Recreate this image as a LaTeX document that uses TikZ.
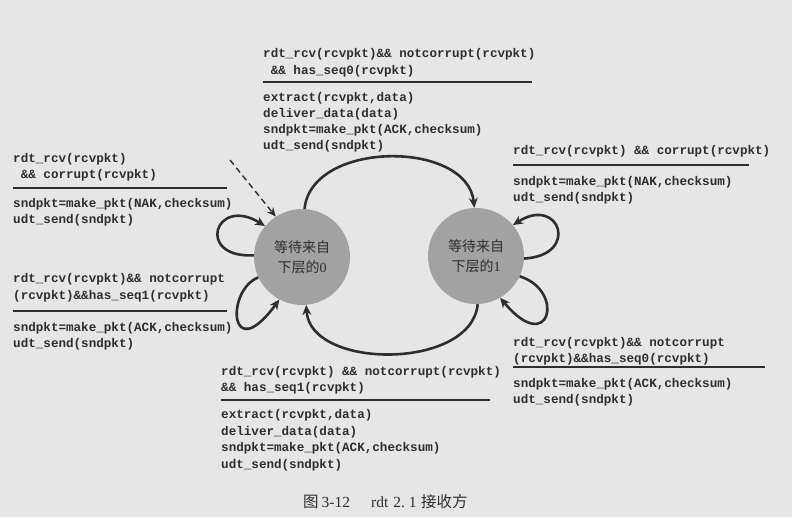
\documentclass[tikz,border=0pt]{standalone}
\usepackage{fontspec}
\setmainfont{Liberation Serif}
\setmonofont{Liberation Mono}
\newfontfamily\cjk{Noto Sans CJK SC}
\usetikzlibrary{arrows.meta}
\definecolor{bg}{HTML}{E6E6E6}
\definecolor{ink}{HTML}{2E2E2E}
\definecolor{stfill}{HTML}{A2A2A2}
\begin{document}
\begin{tikzpicture}[x=1pt,y=-1pt,
  code/.style={anchor=base west, inner sep=0pt, text=ink, font=\ttfamily\bfseries\fontsize{12.6}{16}\selectfont},
  state/.style={circle, fill=stfill, minimum size=96pt, inner sep=0pt, align=center, text=ink, font=\fontsize{14}{20}\selectfont},
  trans/.style={draw=ink, line width=2.6pt, -{Stealth[length=10pt,width=9pt]}},
  rulel/.style={draw=ink, line width=1.3pt},
]
\fill[bg] (0,0) rectangle (792,517);
\useasboundingbox (0,0) rectangle (792,517);

% states
\node[state] (L) at (302,257) {{\cjk 等待来自}\\{\cjk 下层的}0};
\node[state] (R) at (476,256) {{\cjk 等待来自}\\{\cjk 下层的}1};

% transitions
\draw[trans] (L.87) .. controls +(7,-69) and +(-7,-68) .. (R.92);
\draw[trans] (R.-88) .. controls +(-6,66) and +(4,65) .. (L.-85);
\draw[trans] (L.178) .. controls +(-59,3) and +(-50,-31) .. (L.140);
\draw[trans] (L.205) .. controls +(-33,13) and +(-50,68) .. (L.242);
\draw[trans] (R.-3) .. controls +(56,-3) and +(47,-30) .. (R.40);
\draw[trans] (R.-25) .. controls +(46,14) and +(50,60) .. (R.-60);

% initial dashed arrow
\coordinate (init) at (230,160);
\draw[draw=ink, line width=1.4pt, dash pattern=on 6pt off 4pt, -{Stealth[length=9pt,width=8pt]}] (init) -- (L.123);

% block A (top)
\node[code] (a1) at (263,57) {rdt\_rcv(rcvpkt)\&\& notcorrupt(rcvpkt)};
\node[code] (a2) at (263,74) {\ \&\& has\_seq0(rcvpkt)};
\draw[rulel] (263,82) -- (532,82);
\node[code] (a3) at (263,101) {extract(rcvpkt,data)};
\node[code] (a4) at (263,117) {deliver\_data(data)};
\node[code] (a5) at (263,133) {sndpkt=make\_pkt(ACK,checksum)};
\node[code] (a6) at (263,149) {udt\_send(sndpkt)};

% block B (left top)
\node[code] (b1) at (13,162) {rdt\_rcv(rcvpkt)};
\node[code] (b2) at (13,178) {\ \&\& corrupt(rcvpkt)};
\draw[rulel] (13,188) -- (227,188);
\node[code] (b3) at (13,207) {sndpkt=make\_pkt(NAK,checksum)};
\node[code] (b4) at (13,223) {udt\_send(sndpkt)};

% block C (right top)
\node[code] (c1) at (513,154) {rdt\_rcv(rcvpkt) \&\& corrupt(rcvpkt)};
\draw[rulel] (513,165) -- (749,165);
\node[code] (c2) at (513,185) {sndpkt=make\_pkt(NAK,checksum)};
\node[code] (c3) at (513,201) {udt\_send(sndpkt)};

% block D (left bottom)
\node[code] (d1) at (13,282) {rdt\_rcv(rcvpkt)\&\& notcorrupt};
\node[code] (d2) at (13,299) {(rcvpkt)\&\&has\_seq1(rcvpkt)};
\draw[rulel] (13,311) -- (227,311);
\node[code] (d3) at (13,331) {sndpkt=make\_pkt(ACK,checksum)};
\node[code] (d4) at (13,347) {udt\_send(sndpkt)};

% block E (bottom)
\node[code] (e1) at (221,375) {rdt\_rcv(rcvpkt) \&\& notcorrupt(rcvpkt)};
\node[code] (e2) at (221,391) {\&\& has\_seq1(rcvpkt)};
\draw[rulel] (221,400) -- (490,400);
\node[code] (e3) at (221,418) {extract(rcvpkt,data)};
\node[code] (e4) at (221,435) {deliver\_data(data)};
\node[code] (e5) at (221,451) {sndpkt=make\_pkt(ACK,checksum)};
\node[code] (e6) at (221,468) {udt\_send(sndpkt)};

% block F (right bottom)
\node[code] (f1) at (513,346) {rdt\_rcv(rcvpkt)\&\& notcorrupt};
\node[code] (f2) at (513,362) {(rcvpkt)\&\&has\_seq0(rcvpkt)};
\draw[rulel] (513,367) -- (765,367);
\node[code] (f3) at (513,387) {sndpkt=make\_pkt(ACK,checksum)};
\node[code] (f4) at (513,403) {udt\_send(sndpkt)};

% caption
\node[anchor=base west, inner sep=0pt, text=ink, font=\fontsize{15.5}{17}\selectfont] (cap) at (303,507) {{\cjk 图}\hspace{3pt}3-12\hspace{21pt}rdt\hspace{5pt}2.\hspace{4pt}1\hspace{4.5pt}{\cjk 接收方}};
\end{tikzpicture}
\end{document}
